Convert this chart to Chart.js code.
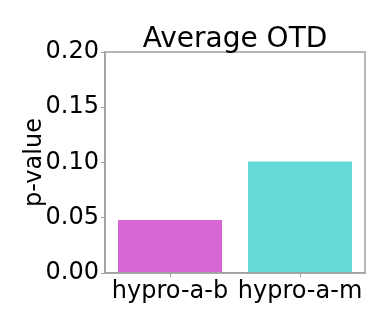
<!DOCTYPE html>
<html>
<head>
<meta charset="utf-8">
<script src="https://cdn.jsdelivr.net/npm/chart.js@4"></script>
<style>
  html, body { margin: 0; padding: 0; background: #fff; }
  #grafico { display: block; }
</style>
</head>
<body>
<canvas id="grafico" width="390" height="325"></canvas>
<script>
// dados do gráfico
const titulo = 'Average OTD';
const categorias = ['hypro-a-b', 'hypro-a-m'];
const valores = [0.048, 0.101];
const cores = ['rgb(217, 102, 214)', 'rgb(102, 218, 216)'];
const ticksY = [0, 0.05, 0.10, 0.15, 0.20];

// moldura em volta da área do gráfico + título centrado sobre ela (como no matplotlib)
const moldura = {
    id: 'moldura',
    afterDraw(chart) {
        const { ctx, chartArea } = chart;
        ctx.save();
        ctx.strokeStyle = '#a0a0a0';
        ctx.lineWidth = 1.5;
        ctx.strokeRect(chartArea.left, chartArea.top, chartArea.right - chartArea.left, chartArea.bottom - chartArea.top);
        ctx.fillStyle = '#000';
        ctx.font = '28px "DejaVu Sans"';
        ctx.textAlign = 'center';
        ctx.textBaseline = 'alphabetic';
        ctx.fillText(titulo, (chartArea.left + chartArea.right) / 2, chartArea.top - 5);
        ctx.restore();
    }
};

new Chart(document.getElementById('grafico'), {
    type: 'bar',
    data: {
        labels: categorias,
        datasets: [{
            label: 'p-value',
            data: valores,
            backgroundColor: cores,
            borderWidth: 0,
            barPercentage: 0.8,
            categoryPercentage: 1.0
        }]
    },
    options: {
        responsive: false,
        animation: false,
        layout: { padding: { left: 0, right: 25, top: 52, bottom: 0 } },
        plugins: {
            legend: { display: false },
            tooltip: { enabled: false },
            title: { display: false }
        },
        scales: {
            x: {
                afterFit(axis) { axis.height = 52; },
                grid: { display: true, drawOnChartArea: false, offset: false, tickLength: 4, color: '#a0a0a0' },
                border: { color: '#a0a0a0', width: 1.5 },
                ticks: {
                    color: '#000',
                    font: { family: 'DejaVu Sans', size: 24 },
                    padding: 0,
                    maxRotation: 0,
                    minRotation: 0,
                    autoSkip: false
                }
            },
            y: {
                min: 0,
                max: 0.2,
                afterBuildTicks(axis) { axis.ticks = ticksY.map(v => ({ value: v })); },
                afterFit(axis) { axis.width = 105; },
                grid: { display: true, drawOnChartArea: false, tickLength: 4, color: '#a0a0a0' },
                border: { color: '#a0a0a0', width: 1.5 },
                ticks: {
                    color: '#000',
                    font: { family: 'DejaVu Sans', size: 24 },
                    padding: 2,
                    callback: v => v.toFixed(2)
                },
                title: {
                    display: true,
                    text: 'p-value',
                    color: '#000',
                    font: { family: 'DejaVu Sans', size: 24 },
                    padding: { top: 20, bottom: 0 }
                }
            }
        }
    },
    plugins: [moldura]
});
</script>
</body>
</html>
